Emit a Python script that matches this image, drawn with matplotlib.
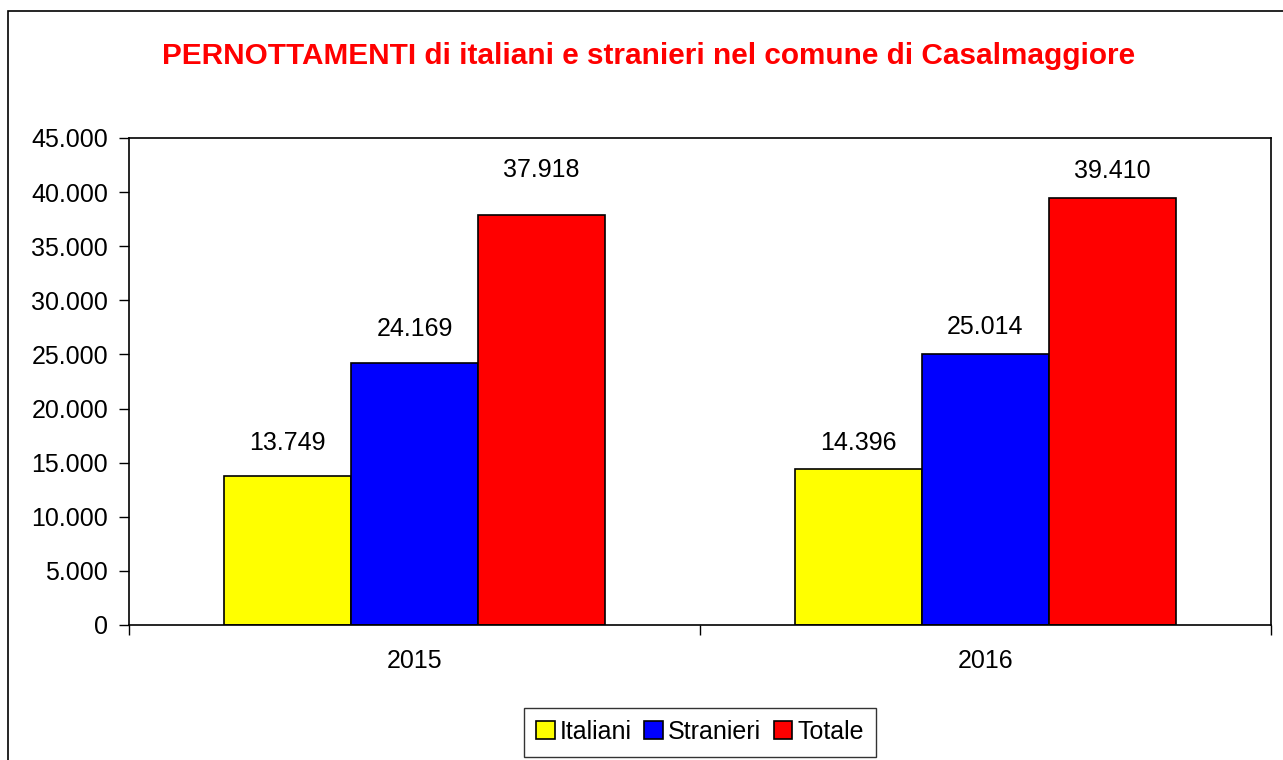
from matplotlib import pyplot as plt
from matplotlib.patches import Rectangle
from matplotlib.ticker import FuncFormatter
import numpy as np

plt.rcParams['font.family'] = ['Liberation Sans', 'DejaVu Sans']

anni = ['2015', '2016']
serie = ['Italiani', 'Stranieri', 'Totale']
italiani = [13749, 14396]
stranieri = [24169, 25014]
totale = [37918, 39410]
colori = ['#FFFF00', '#0000FF', '#FF0000']

# distanza (in punti) delle etichette sopra le barre, per serie e anno
scarti = [[24, 19], [24.5, 20], [32, 20]]

fig = plt.figure(figsize=(12.83, 7.6), dpi=100)
ax = fig.add_axes([129 / 1283, 1 - 625 / 760, (1271 - 129) / 1283, (625 - 138) / 760])

# cornice esterna del grafico
fig.patches.append(Rectangle((8 / 1283, -0.1), 1.2, 1 - 11 / 760 + 0.1,
                             transform=fig.transFigure, fill=False,
                             edgecolor='black', linewidth=1.2))

x = np.arange(len(anni))
width = 0.222

def fmt(v):
    return f'{v:,.0f}'.replace(',', '.')

for i, (valori, colore, nome) in enumerate(zip([italiani, stranieri, totale], colori, serie)):
    bars = ax.bar(x + (i - 1) * width, valori, width=width, color=colore,
                  edgecolor='black', linewidth=1.2, label=nome)
    for b, v, dy in zip(bars, valori, scarti[i]):
        ax.annotate(fmt(v), (b.get_x() + b.get_width() / 2, v),
                    xytext=(0, dy), textcoords='offset points',
                    ha='center', va='center', fontsize=18)

ax.set_xlim(-0.5, 1.5)
ax.set_ylim(0, 45000)
ax.set_yticks(np.arange(0, 45001, 5000))
ax.yaxis.set_major_formatter(FuncFormatter(lambda v, p: fmt(v)))
ax.set_xticks(x)
ax.set_xticklabels(anni)
ax.set_xticks([-0.5, 0.5, 1.5], minor=True)
ax.tick_params(axis='x', which='major', length=0, pad=17, labelsize=18)
ax.tick_params(axis='x', which='minor', length=7, width=1)
ax.tick_params(axis='y', length=7, width=1, labelsize=18, pad=8)
for s in ax.spines.values():
    s.set_linewidth(1.2)

fig.text(649 / 1283, 1 - 56 / 760, 'PERNOTTAMENTI di italiani e stranieri nel comune di Casalmaggiore',
         ha='center', va='center', color='#FF0000', fontsize=21.4, fontweight='bold')

leg = fig.legend(loc='center', bbox_to_anchor=(700 / 1283, 1 - 732 / 760), ncol=3,
                 fontsize=18, frameon=True, fancybox=False, edgecolor='black',
                 handlelength=0.75, handleheight=0.75, handletextpad=0.2,
                 columnspacing=0.5, borderpad=0.5)
leg.get_frame().set_linewidth(1)

fig.savefig('out.png', dpi=100)
